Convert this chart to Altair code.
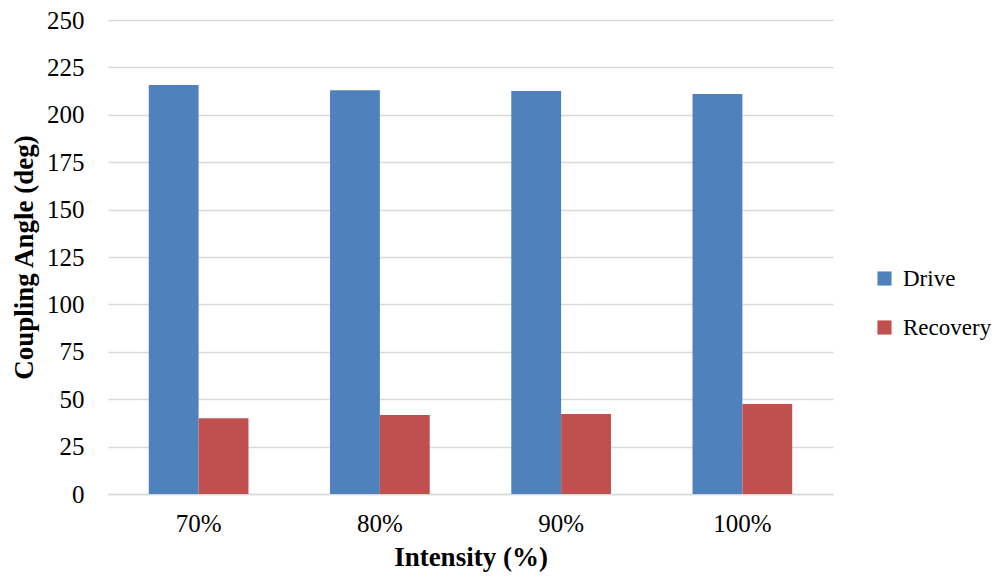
import altair as alt
import pandas as pd

categories = ["70%", "80%", "90%", "100%"]
drive = [215.7, 213.0, 212.6, 211.0]
recovery = [39.9, 41.7, 42.2, 47.5]
series = ["Drive", "Recovery"]

rows = []
for i, c in enumerate(categories):
    rows.append({"Intensity": c, "Phase": "Drive", "Angle": drive[i]})
    rows.append({"Intensity": c, "Phase": "Recovery", "Angle": recovery[i]})
df = pd.DataFrame(rows)

FONT = "Liberation Serif"

chart = alt.Chart(df).mark_bar().encode(
    x=alt.X("Intensity:N", sort=categories,
            scale=alt.Scale(paddingInner=0.45, paddingOuter=0.225),
            axis=alt.Axis(title="Intensity (%)", labelAngle=0, labelFontSize=25,
                          labelPadding=17, titleFontSize=27, titleFontWeight="bold",
                          titlePadding=8, ticks=False, domainColor="#D9D9D9",
                          domainWidth=1.5, labelColor="#000000", titleColor="#000000",
                          labelFont=FONT, titleFont=FONT)),
    xOffset=alt.XOffset("Phase:N", sort=series),
    y=alt.Y("Angle:Q", scale=alt.Scale(domain=[0, 250]),
            axis=alt.Axis(title="Coupling Angle (deg)", values=list(range(0, 251, 25)),
                          labelFontSize=25, labelPadding=24, titleFontSize=27,
                          titleFontWeight="bold", titlePadding=8, ticks=False,
                          domain=False, gridColor="#D9D9D9", gridWidth=1.5,
                          labelColor="#000000", titleColor="#000000",
                          labelFont=FONT, titleFont=FONT)),
    color=alt.Color("Phase:N", sort=series,
                    scale=alt.Scale(domain=series, range=["#4F81BD", "#C0504D"]),
                    legend=alt.Legend(title=None, orient="none", legendX=765, legendY=247,
                                      symbolType="square", symbolSize=200,
                                      symbolStrokeWidth=0, labelFontSize=23,
                                      labelFont=FONT, labelColor="#000000",
                                      rowPadding=25, labelOffset=7)),
).properties(
    width=725, height=474,
    autosize=alt.AutoSizeParams(type="none"),
    padding={"left": 100, "top": 12, "right": 159, "bottom": 84},
).configure_view(stroke=None)

chart.save("out.html", embed_options={"renderer": "svg", "actions": False})
